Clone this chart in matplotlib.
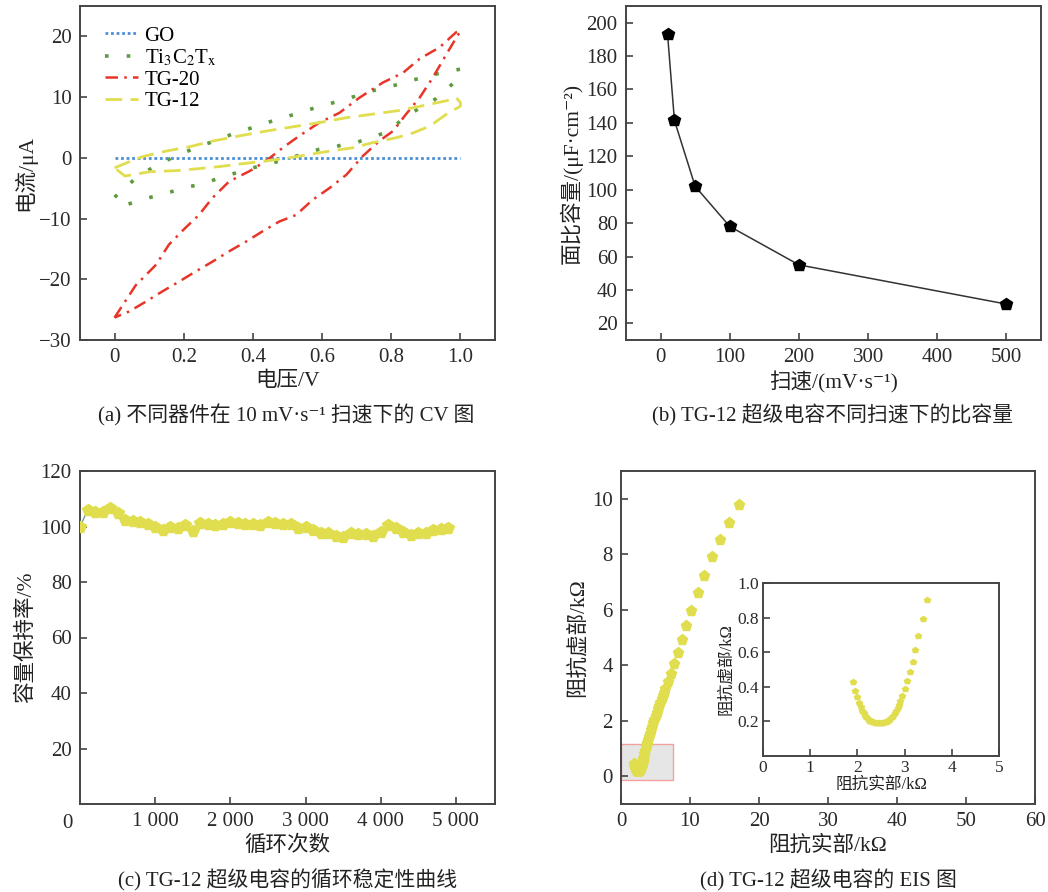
import matplotlib
matplotlib.use("Agg")
import matplotlib.pyplot as plt
from matplotlib.patches import Rectangle

plt.rcParams['font.family'] = ['Liberation Serif', 'Noto Sans CJK SC', 'DejaVu Serif']
plt.rcParams['mathtext.fontset'] = 'stix'
plt.rcParams['axes.unicode_minus'] = True

# (a) CV loops at 10 mV/s
go_v = [0.0, 1.0]
go_i = [0.0, 0.0]

ti_v = [0.0, 0.028, 0.059, 0.093, 0.128, 0.167, 0.204, 0.238, 0.276, 0.312, 0.35, 0.389, 0.428,
        0.467, 0.505, 0.544, 0.583, 0.621, 0.66, 0.699, 0.737, 0.776, 0.814, 0.853, 0.892, 0.93,
        0.969, 1.0, 0.993, 0.959, 0.926, 0.892, 0.853, 0.814, 0.781, 0.737, 0.699, 0.66, 0.631,
        0.592, 0.554, 0.515, 0.476, 0.438, 0.4, 0.366, 0.328, 0.289, 0.252, 0.213, 0.175, 0.136,
        0.097, 0.059, 0.022, 0.0]
ti_i = [-6.5, -5.0, -3.5, -2.2, -1.0, 0.0, 0.9, 1.8, 2.5, 3.3, 4.1, 4.8, 5.5,
        6.3, 6.9, 7.6, 8.3, 8.9, 9.5, 10.2, 10.9, 11.5, 12.0, 12.7, 13.2, 13.8,
        14.3, 14.6, 12.9, 11.3, 9.6, 8.5, 7.2, 5.5, 4.1, 3.3, 2.5, 2.2, 1.65,
        1.4, 0.8, 0.1, -0.55, -1.1, -1.65, -2.2, -2.9, -3.6, -4.3, -4.8, -5.4, -6.05,
        -6.6, -7.3, -7.9, -6.5]

tg20_v = [0.0, 0.061, 0.12, 0.157, 0.2, 0.244, 0.283, 0.331, 0.39, 0.437, 0.486, 0.534, 0.592,
          0.65, 0.708, 0.776, 0.834, 0.882, 0.94, 0.988, 1.0, 0.96, 0.92, 0.882, 0.843, 0.805,
          0.766, 0.718, 0.67, 0.621, 0.573, 0.525, 0.476, 0.428, 0.38, 0.331, 0.283, 0.235,
          0.186, 0.138, 0.09, 0.042, 0.0]
tg20_i = [-26.3, -21.0, -17.6, -14.3, -11.8, -9.4, -6.6, -3.9, -2.2, -0.55, 1.65, 3.6, 5.8,
          7.4, 9.9, 12.4, 14.0, 16.3, 18.2, 20.7, 20.9, 17.1, 13.2, 9.9, 7.2, 4.4,
          2.8, 0.3, -2.8, -5.0, -6.9, -9.4, -10.5, -12.1, -13.8, -15.4, -17.1, -18.7,
          -20.4, -22.0, -23.7, -25.3, -26.3]

tg12_v = [0.0, 0.066, 0.088, 0.148, 0.215, 0.283, 0.36, 0.438, 0.515, 0.592, 0.67, 0.747, 0.824,
          0.901, 0.96, 0.988, 1.0, 1.0, 0.96, 0.911, 0.863, 0.814, 0.747, 0.689, 0.621, 0.563,
          0.505, 0.44, 0.38, 0.31, 0.24, 0.18, 0.1, 0.03, 0.0]
tg12_i = [-1.65, -0.1, 0.3, 1.1, 1.8, 2.75, 3.6, 4.4, 5.1, 5.8, 6.6, 7.2, 7.8,
          8.7, 9.4, 9.9, 9.1, 8.5, 7.2, 5.2, 4.1, 3.3, 2.5, 1.65, 1.1, 0.55,
          0.0, -0.5, -0.9, -1.4, -1.8, -2.1, -2.3, -3.0, -1.65]

# (b) areal capacitance vs scan rate
scan_rate = [10, 20, 50, 100, 200, 500]
capacitance = [193.5, 141.5, 102.0, 78.0, 55.0, 31.5]

# (c) cycling stability
cycles = [0, 100, 200, 300, 400, 500, 600, 700, 800, 900, 1000, 1100, 1200, 1300, 1400, 1500,
          1600, 1700, 1800, 1900, 2000, 2100, 2200, 2300, 2400, 2500, 2600, 2700, 2800, 2900,
          3000, 3100, 3200, 3300, 3400, 3500, 3600, 3700, 3800, 3900, 4000, 4100, 4200, 4300,
          4400, 4500, 4600, 4700, 4800, 4900]
retention = [100.0, 105.8, 105.1, 105.4, 106.7, 104.8, 102.2, 101.9, 101.8, 100.8, 100.0, 98.6,
             100.0, 99.5, 100.4, 98.2, 101.2, 101.0, 100.5, 101.0, 101.7, 101.2, 100.8, 101.0,
             100.7, 101.7, 101.2, 100.8, 101.0, 99.6, 99.8, 98.6, 97.8, 97.6, 96.7, 96.1, 97.6,
             97.3, 97.3, 96.7, 98.0, 100.4, 99.4, 98.0, 97.1, 97.7, 97.6, 98.6, 99.0, 99.4]

# (d) Nyquist plot
z_re = [1.90, 1.95, 1.99, 2.03, 2.07, 2.10, 2.13, 2.16, 2.19, 2.22, 2.25, 2.28, 2.31, 2.34,
        2.37, 2.40, 2.43, 2.46, 2.49, 2.52, 2.55, 2.58, 2.61, 2.64, 2.67, 2.70, 2.73, 2.76,
        2.79, 2.82, 2.85, 2.88, 2.91, 2.95, 3.01, 3.06, 3.12, 3.17, 3.23, 3.29, 3.39, 3.48,
        3.64, 3.72, 3.82, 3.94, 4.05, 4.20, 4.35, 4.52, 4.70, 4.85, 5.00, 5.20, 5.40, 5.55,
        5.70, 5.88, 6.05, 6.22, 6.40, 6.80, 7.30, 7.70, 8.20, 8.80, 9.40, 10.2, 11.1, 12.0,
        13.2, 14.4, 15.6, 17.1]
z_im = [0.427, 0.377, 0.339, 0.306, 0.282, 0.262, 0.247, 0.234, 0.223, 0.213, 0.205, 0.200,
        0.196, 0.194, 0.193, 0.192, 0.192, 0.192, 0.192, 0.192, 0.193, 0.195, 0.198, 0.202,
        0.208, 0.215, 0.223, 0.233, 0.246, 0.260, 0.277, 0.296, 0.318, 0.345, 0.387, 0.433,
        0.487, 0.545, 0.615, 0.694, 0.792, 0.900, 1.06, 1.12, 1.20, 1.30, 1.41, 1.53, 1.65,
        1.78, 1.91, 2.04, 2.17, 2.29, 2.41, 2.53, 2.65, 2.77, 2.89, 3.01, 3.13, 3.40, 3.68,
        4.04, 4.43, 4.90, 5.42, 5.97, 6.60, 7.22, 7.89, 8.53, 9.14, 9.76]

YELLOW = '#e0de4e'
TXT = '#222222'
W, H = 1048, 892
TICK_FS = 15
LABEL_FS = 15.5
CAP_FS = 15


def px_axes(fig, x0, y0, x1, y1):
    return fig.add_axes([x0 / W, 1 - y1 / H, (x1 - x0) / W, (y1 - y0) / H])


def style(ax, size=TICK_FS):
    for s in ax.spines.values():
        s.set_color('#444444')
        s.set_linewidth(1.4)
    ax.tick_params(direction='in', length=5, width=1.2, color='#444444',
                   labelsize=size, labelcolor='#2a2a2a', pad=6)


fig = plt.figure(figsize=(W / 100, H / 100), dpi=100)

# ---- (a)
ax = px_axes(fig, 80, 6, 495, 340)
ax.plot(go_v, go_i, color='#4b8fd6', ls=(0, (1, 1)), lw=2, label='GO')
ax.plot(ti_v, ti_i, color='#5e9b3e', ls=(0, (1, 5)), lw=2.6,
        label=r'Ti$_\mathrm{3}$C$_\mathrm{2}$T$_\mathrm{x}$')
ax.plot(tg20_v, tg20_i, color='#e8352a', ls=(0, (5, 2.5, 1, 2.5)), lw=1.8, label='TG-20')
ax.plot(tg12_v, tg12_i, color=YELLOW, ls=(0, (6, 3)), lw=2, label='TG-12')
ax.set_xlim(-0.1, 1.1)
ax.set_ylim(-30, 25)
ax.set_xticks([0, 0.2, 0.4, 0.6, 0.8, 1.0])
ax.set_xticklabels(['0', '0.2', '0.4', '0.6', '0.8', '1.0'])
ax.set_yticks([-30, -20, -10, 0, 10, 20])
style(ax)
ax.set_xlabel('电压/V', fontsize=LABEL_FS, color=TXT, labelpad=3)
ax.set_ylabel('电流/μA', fontsize=LABEL_FS, color=TXT, labelpad=2)
ax.legend(loc='upper left', bbox_to_anchor=(0.04, 0.965), frameon=False, fontsize=15,
          handlelength=1.6, handletextpad=0.3, labelspacing=0.09, borderaxespad=0)
fig.text(286 / W, 1 - 415 / H, '(a) 不同器件在 10 mV·s⁻¹ 扫速下的 CV 图',
         ha='center', va='center', fontsize=CAP_FS, color=TXT)

# ---- (b)
ax = px_axes(fig, 626, 6, 1041, 340)
ax.plot(scan_rate, capacitance, color='#333333', lw=1.1, marker='p', ms=9,
        mfc='black', mec='black')
ax.set_xlim(-50, 550)
ax.set_ylim(10, 210)
ax.set_xticks([0, 100, 200, 300, 400, 500])
ax.set_yticks(range(20, 201, 20))
style(ax)
ax.set_xlabel('扫速/(mV·s⁻¹)', fontsize=LABEL_FS, color=TXT, labelpad=3)
ax.set_ylabel('面比容量/(μF·cm⁻²)', fontsize=LABEL_FS, color=TXT, labelpad=3)
fig.text(833 / W, 1 - 415 / H, '(b) TG-12 超级电容不同扫速下的比容量',
         ha='center', va='center', fontsize=CAP_FS, color=TXT)

# ---- (c)
ax = px_axes(fig, 80, 471, 495, 804)
ax.plot(cycles, retention, color='#6aa090', lw=1, zorder=2)
ax.plot(cycles, retention, ls='none', marker='p', ms=8.5, mfc=YELLOW, mec=YELLOW, zorder=3)
ax.set_xlim(0, 5520)
ax.set_ylim(0, 120)
ax.set_xticks([1000, 2000, 3000, 4000, 5000])
ax.set_xticklabels(['1 000', '2 000', '3 000', '4 000', '5 000'])
ax.set_yticks([20, 40, 60, 80, 100, 120])
style(ax)
ax.text(-13 / 415, -19 / 333, '0', transform=ax.transAxes, ha='center', va='center',
        fontsize=TICK_FS, color='#2a2a2a')
ax.set_xlabel('循环次数', fontsize=LABEL_FS, color=TXT, labelpad=3)
ax.set_ylabel('容量保持率/%', fontsize=LABEL_FS, color=TXT, labelpad=3)
fig.text(288 / W, 1 - 880 / H, '(c) TG-12 超级电容的循环稳定性曲线',
         ha='center', va='center', fontsize=CAP_FS, color=TXT)

# ---- (d)
ax = px_axes(fig, 621, 471, 1035, 804)
ax.add_patch(Rectangle((0, -0.12), 7.5, 1.29, facecolor='#e6e6e6', edgecolor='#f2a0a0',
                       lw=1, zorder=1))
ax.plot(z_re, z_im, ls='none', marker='p', ms=8, mfc=YELLOW, mec=YELLOW, zorder=3)
ax.set_xlim(0, 60)
ax.set_ylim(-1, 11)
ax.set_xticks(range(0, 61, 10))
ax.set_yticks([0, 2, 4, 6, 8, 10])
style(ax)
ax.set_xlabel('阻抗实部/kΩ', fontsize=LABEL_FS, color=TXT, labelpad=3)
ax.set_ylabel('阻抗虚部/kΩ', fontsize=LABEL_FS, color=TXT, labelpad=3)
fig.text(828 / W, 1 - 880 / H, '(d) TG-12 超级电容的 EIS 图',
         ha='center', va='center', fontsize=CAP_FS, color=TXT)

# inset: zoom on the high-frequency semicircle
ins = px_axes(fig, 763, 583, 999, 756)
ins.plot(z_re, z_im, ls='none', marker='p', ms=4, mfc=YELLOW, mec=YELLOW)
ins.set_xlim(0, 5)
ins.set_ylim(0, 1.0)
ins.set_xticks([0, 1, 2, 3, 4, 5])
ins.set_yticks([0.2, 0.4, 0.6, 0.8, 1.0])
style(ins, size=12.5)
ins.tick_params(pad=3)
ins.set_xlabel('阻抗实部/kΩ', fontsize=12, color=TXT, labelpad=0)
ins.set_ylabel('阻抗虚部/kΩ', fontsize=12, color=TXT, labelpad=2)

fig.savefig('out.png', dpi=100, facecolor='white')
